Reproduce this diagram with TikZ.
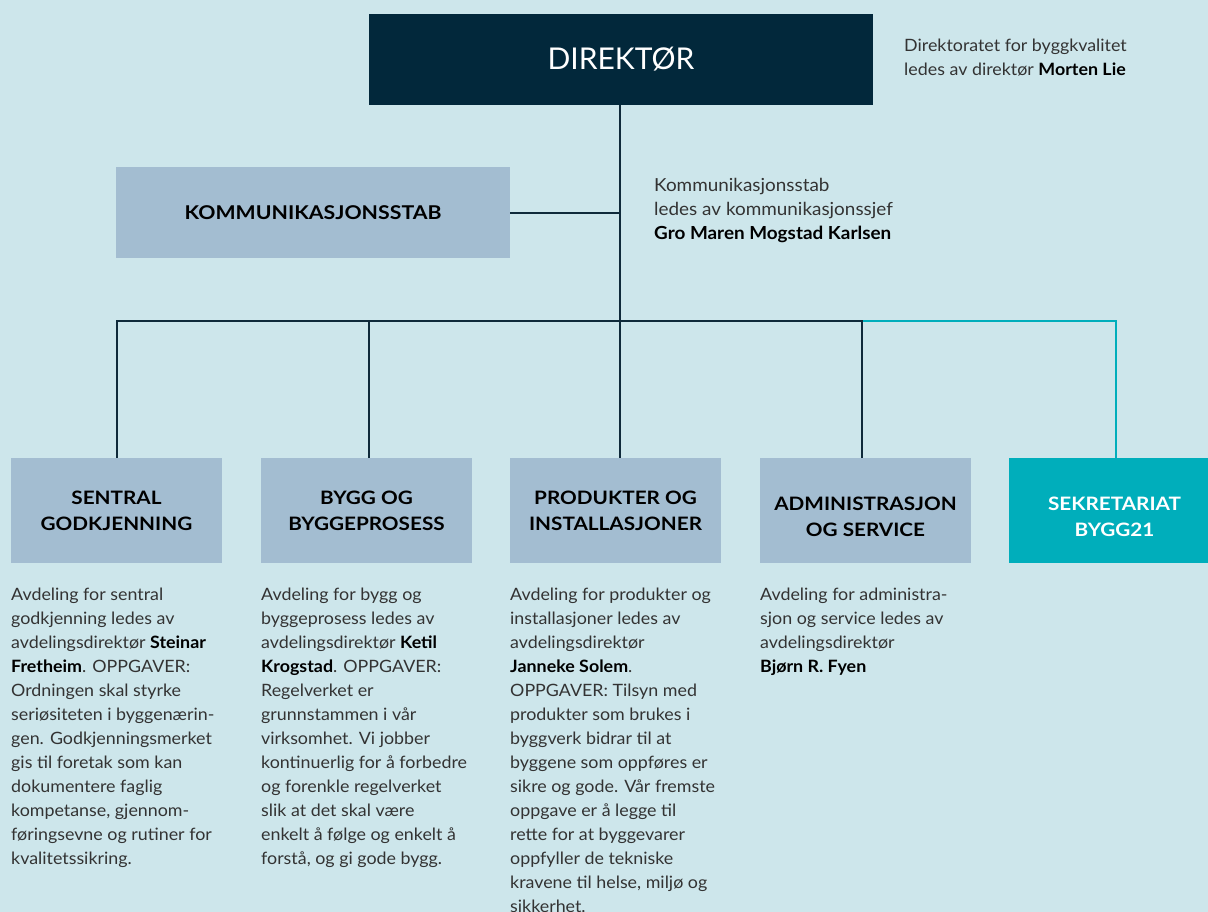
\documentclass[tikz,border=0pt]{standalone}
\usepackage{fontspec}
\setmainfont{Lato}[FakeStretch=1.05]
\newfontfamily\boxfont{Lato}[FakeStretch=1.12]
\newfontfamily\headfont{Lato}
\definecolor{bgc}{HTML}{CDE6EB}
\definecolor{navy}{HTML}{02283B}
\definecolor{boxc}{HTML}{A3BDD1}
\definecolor{teal}{HTML}{00AEBB}
\definecolor{linec}{HTML}{0F2A3A}
\definecolor{bodyc}{HTML}{333333}
\newcommand{\nm}[1]{{\color{black}\bfseries #1}}
\begin{document}
\begin{tikzpicture}[x=1pt,y=-1pt,
  box/.style={inner sep=0pt, draw=none, fill=boxc},
  boxtext/.style={align=center, text=black, font=\boxfont\fontsize{18.5}{26}\selectfont\bfseries},
  desc/.style={anchor=north west, inner sep=0pt, align=left, text=bodyc, font=\fontsize{17}{24}\selectfont},
  conn/.style={draw=linec, line width=2pt},
  tconn/.style={draw=teal, line width=2pt}]
\useasboundingbox (0,0) rectangle (1208,912);
\clip (0,0) rectangle (1208,912);
\fill[bgc] (0,0) rectangle (1208,912);

% top
\node[box, fill=navy, minimum width=504pt, minimum height=91pt, text=white,
  font=\headfont\fontsize{30}{36}\selectfont] (dir) at (621,59.5) {DIREKTØR};
\node[desc] (dirtxt) at (904,38.5) {Direktoratet for byggkvalitet\\ledes av direktør \nm{Morten Lie}};

\node[box, minimum width=394pt, minimum height=91pt, boxtext, font=\boxfont\fontsize{19}{24}\selectfont\bfseries] (ks) at (313,213) {KOMMUNIKASJONSSTAB};
\node[desc, font=\fontsize{18}{24}\selectfont] (kstxt) at (654,178) {Kommunikasjonsstab\\ledes av kommunikasjonssjef\\\nm{Gro Maren Mogstad Karlsen}};

% bottom boxes
\node[box, minimum width=211pt, minimum height=105pt] (b1) at (116.5,510.5) {};
\node[box, minimum width=211pt, minimum height=105pt] (b2) at (366.5,510.5) {};
\node[box, minimum width=211pt, minimum height=105pt] (b3) at (615.5,510.5) {};
\node[box, minimum width=211pt, minimum height=105pt] (b4) at (865.5,510.5) {};
\node[box, fill=teal, minimum width=211pt, minimum height=105pt] (b5) at (1114.5,510.5) {};

\node[boxtext] (l1) at (116.5,510.5) {SENTRAL\\GODKJENNING};
\node[boxtext] (l2) at (366.5,510.5) {BYGG OG\\BYGGEPROSESS};
\node[boxtext] (l3) at (615.5,510.5) {PRODUKTER OG\\INSTALLASJONER};
\node[boxtext] (l4) at (865.5,516.5) {ADMINISTRASJON\\OG SERVICE};
\node[boxtext, text=white] (l5) at (1114.5,516.5) {SEKRETARIAT\\BYGG21};

% connectors
\coordinate (bus) at (620,321);
\coordinate (j1) at (117,321);
\coordinate (j2) at (369,321);
\coordinate (j4) at (862,321);
\coordinate (j5) at (1116,321);
\draw[conn] (dir.south -| bus) -- (bus);
\draw[conn] (ks.east) -- (ks.east -| bus);
\draw[tconn, line width=2.4pt, line cap=rect] (j4) -- (j5);
\draw[tconn, line width=1.8pt] (j5) -- (j5 |- b5.north);
\draw[conn, line width=2.4pt, line cap=rect] (j1) -- (j4);
\draw[conn, line width=1.8pt] (j1) -- (j1 |- b1.north);
\draw[conn, line width=1.8pt] (j2) -- (j2 |- b2.north);
\draw[conn, line width=1.8pt] (bus) -- (bus |- b3.north);
\draw[conn, line width=1.8pt] (j4) -- (j4 |- b4.north);

% descriptions
\node[desc] (d1) at (11,587.5) {Avdeling for sentral\\godkjenning ledes av\\avdelingsdirektør \nm{Steinar}\\\nm{Fretheim}. OPPGAVER:\\Ordningen skal styrke\\seriøsiteten i byggenærin-\\gen. Godkjenningsmerket\\gis til foretak som kan\\dokumentere faglig\\kompetanse, gjennom-\\føringsevne og rutiner for\\kvalitetssikring.};
\node[desc] (d2) at (261,587.5) {Avdeling for bygg og\\byggeprosess ledes av\\avdelingsdirektør \nm{Ketil}\\\nm{Krogstad}. OPPGAVER:\\Regelverket er\\grunnstammen i vår\\virksomhet. Vi jobber\\kontinuerlig for å forbedre\\og forenkle regelverket\\slik at det skal være\\enkelt å følge og enkelt å\\forstå, og gi gode bygg.};
\node[desc] (d3) at (510,587.5) {Avdeling for produkter og\\installasjoner ledes av\\avdelingsdirektør\\\nm{Janneke Solem}.\\OPPGAVER: Tilsyn med\\produkter som brukes i\\byggverk bidrar til at\\byggene som oppføres er\\sikre og gode. Vår fremste\\oppgave er å legge til\\rette for at byggevarer\\oppfyller de tekniske\\kravene til helse, miljø og\\sikkerhet.};
\node[desc] (d4) at (760,587.5) {Avdeling for administra-\\sjon og service ledes av\\avdelingsdirektør\\\nm{Bjørn R. Fyen}};
\end{tikzpicture}
\end{document}
